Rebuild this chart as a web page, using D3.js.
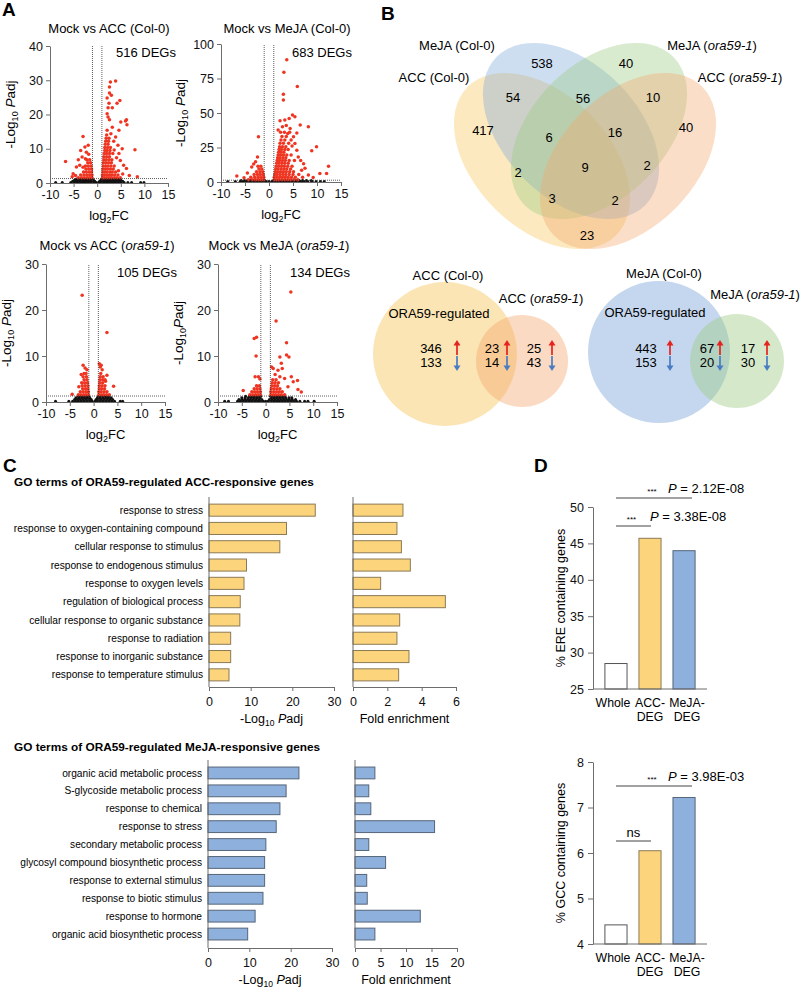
<!DOCTYPE html>
<html><head><meta charset="utf-8">
<script src="https://cdn.jsdelivr.net/npm/d3@7"></script>
<style>
body{margin:0;background:#fff}
svg{font-family:"Liberation Sans",Arial,Helvetica,sans-serif}
</style></head><body>
<svg id="fig" width="800" height="989"></svg>
<script>
// ================= DATA =================
// ---- Panel A: volcano plots, points as [log2FC, -log10 Padj] ----
const fcCut = 1, padjCut = 1.3;
const xTicksVolcano = [-10,-5,0,5,10,15];
const volcanoTitles = [
  [{t:'Mock vs ACC (Col-0)'}],
  [{t:'Mock vs MeJA (Col-0)'}],
  [{t:'Mock vs ACC ('},{t:'ora59-1',i:true},{t:')'}],
  [{t:'Mock vs MeJA ('},{t:'ora59-1',i:true},{t:')'}]
];
const degCounts = [516, 683, 105, 134];
const yMaxes = [40, 100, 30, 30];
const yTicksVolcano = [[0,10,20,30,40],[0,25,50,75,100],[0,10,20,30],[0,10,20,30]];

// Mock vs ACC (Col-0)
const accColRedRows = [
 [1.5,[1.1,1.5,2.0,2.5,3.0,3.6,4.2,4.9,-1.1,-1.6,-2.1,-2.7,-3.3,-4.0]],
 [2.3,[1.1,1.6,2.1,2.6,3.1,3.7,4.4,-1.1,-1.6,-2.2,-2.8,-3.5]],
 [3.2,[1.2,1.6,2.1,2.7,3.2,3.9,-1.2,-1.7,-2.3,-2.9]],
 [4.1,[1.2,1.7,2.2,2.8,3.4,-1.2,-1.8,-2.4]],
 [5.0,[1.3,1.8,2.3,2.9,3.6,-1.3,-1.9,-2.5]],
 [5.9,[1.3,1.8,2.4,3.0,-1.4,-2.0]],
 [6.8,[1.4,1.9,2.5,3.1,-1.6,-2.2]],
 [7.7,[1.4,2.0,2.6]],
 [8.6,[1.5,2.0,2.6,3.3]],
 [9.5,[1.6,2.1,2.7]],
 [10.4,[1.6,2.2,2.8]],
 [11.3,[1.7,2.3]],
 [12.2,[1.8,2.4]],
 [13.1,[1.9,2.5]],
 [14.0,[2.0]]
];
const accColRedScatter = [[3.9,29.8],[2.8,29.5],[2.6,28],[2.6,26.3],[3.0,25.6],[2.1,24.8],[4.8,24.1],[4.2,23.3],[2.5,23.3],[2.3,22],[3.2,22],[2.1,20.2],[2.3,19.3],[2.6,18.5],[6.2,18.5],[6.0,18.1],[5.0,17.8],[6.3,17],[3.2,16.3],[2.1,15.4],[4.6,15.4],[3.9,13.4],[4.4,11],[8.0,9.7],[5.3,10],[4.6,8.6],[4.9,6.6],[6.2,4.2],[8.5,1.8],[3.5,12.2],[2.9,14.4],[3.6,9.6],[4.1,7.4],[5.6,5.2],[4.5,3.6],[5.4,2.6],[6.8,2.2],
 [-3.0,13.6],[-2.6,10.5],[-1.9,11],[-3.5,9.5],[-3.2,7.6],[-2.5,7.1],[-4.0,6.8],[-6.7,6.3],[-3.7,5.2],[-4.4,4.7],[-5.1,2.7],[-5.3,1.8],[-1.8,8.4],[-2.3,9.0],[-4.6,2.2],[-3.0,4.6]];
const accColBlackRows = [
 [0.15,[-8.8,-7.4,-5.6,-4.9,-4.3,-3.7,-3.1,-2.5,-1.9,-1.3,-0.7,-0.2,0.3,0.8,1.4,2.0,2.6,3.2,3.8,4.4,5.0,5.7,6.5,7.3,9.2,9.9]],
 [0.5,[-5.2,-4.5,-3.9,-3.3,-2.7,-2.1,-1.5,-1.0,-0.5,0.5,1.0,1.6,2.2,2.8,3.4,4.0,4.7,5.4]],
 [0.85,[-4.8,-4.1,-3.5,-2.9,-2.3,-1.7,-1.2,-0.8,0.8,1.2,1.8,2.4,3.0,3.6,4.3,5.0]],
 [1.2,[-4.4,-3.7,-3.1,-2.5,-1.9,-1.4,-1.1,1.1,1.5,2.1,2.7,3.3,3.9,4.6]]
];

// Mock vs MeJA (Col-0)
const mejaColRedRows = [
 [1.6,[1.1,1.6,2.1,2.7,3.3,3.9,4.5,5.2,6.0,-1.1,-1.6,-2.2,-2.8,-3.5,-4.3]],
 [3.5,[1.1,1.6,2.2,2.8,3.4,4.0,4.7,5.5,-1.1,-1.7,-2.3,-3.0,-3.8]],
 [5.5,[1.2,1.7,2.3,2.9,3.5,4.2,5.0,6.2,-1.2,-1.8,-2.4,-3.1]],
 [7.5,[1.3,1.8,2.4,3.0,3.6,4.3,5.1,-1.3,-1.9,-2.6]],
 [9.5,[1.4,1.9,2.5,3.1,3.7,4.5,-1.5,-2.1]],
 [11.5,[1.5,2.0,2.6,3.2,3.9,4.8,-1.7,-2.3]],
 [13.5,[1.6,2.1,2.7,3.3,4.0]],
 [15.5,[1.7,2.2,2.8,3.4,4.2,5.3]],
 [17.5,[1.8,2.3,2.9,3.5]],
 [19.5,[1.9,2.4,3.0,3.7,4.6]],
 [21.5,[2.0,2.5,3.1]],
 [23.5,[2.1,2.6,3.3,4.0]],
 [25.5,[2.2,2.8,3.5]],
 [28,[2.3,3.0,4.1]],
 [30.5,[2.5,3.3,4.6]],
 [33,[2.7,3.6]],
 [36,[2.4,3.2,4.3]]
];
const mejaColRedScatter = [[3.7,88.6],[3.1,79.6],[5.9,69.2],[3.0,63.6],[3.0,59.5],[4.9,48.5],[5.4,47.3],[4.2,46],[3.3,44.9],[2.3,44.4],[6.5,41.3],[8.2,40],[4.4,38.8],[2.8,40],[1.9,37.6],[3.9,35.2],[5.1,32.8],[-2.2,32.8],[5.4,27.9],[9.9,25.5],[8.9,22.6],[6.1,18.2],[7.2,13.3],[12.4,11.4],[10.6,6.1],[12.0,6.1],[6.8,8.5],[-6.7,4.4],[-3.6,10.9],[-2.4,18.2],[-2.8,14.6],[5.8,23],[6.6,15.5],[7.5,10],[8.2,5.0],[9.2,3.2],[7.0,3.5],[4.8,26],[3.6,41],[5.8,35.5],[-4.5,6.5],[-3.2,13],[-5.2,3.0]];
const mejaColBlackRows = [
 [0.3,[-8.6,-7.0,-6.0,-5.4,-4.8,-4.2,-3.6,-3.0,-2.4,-1.8,-1.2,-0.6,0,0.6,1.2,1.8,2.4,3.0,3.6,4.2,4.8,5.4,6.0,6.6,7.3,8.1,9.0,9.8,10.7,11.5]],
 [1.0,[-5.8,-5.1,-4.5,-3.9,-3.3,-2.7,-2.1,-1.5,-0.9,0.9,1.5,2.1,2.7,3.3,3.9,4.5,5.1,5.7,6.3,7.0,7.8,8.8]]
];

// Mock vs ACC (ora59-1)
const accOraRedRows = [
 [1.6,[1.1,1.6,2.1,2.7,3.3,-1.1,-1.6,-2.1,-2.7,-3.2]],
 [2.25,[1.1,1.6,2.2,2.8,-1.1,-1.6,-2.2,-2.8]],
 [2.9,[1.2,1.7,2.3,-1.2,-1.7,-2.3]],
 [3.55,[1.2,1.8,2.4,-1.2,-1.8,-2.4]],
 [4.2,[1.3,1.9,-1.3,-1.9,-2.5]],
 [4.85,[1.3,1.9,2.4,-1.4,-2.0]],
 [5.5,[1.4,2.0,-1.5,-2.2]],
 [6.2,[1.5,-1.6,-2.0]]
];
const accOraRedScatter = [[-2.4,23.2],[2.8,15.1],[-2.2,8.0],[1.2,8.3],[1.4,7.6],[-1.4,7.0],[4.2,3.4],[2.8,5.8],[-4.5,1.7],[-3.1,3.3],[1.8,7.0],[-2.6,6.0],[2.5,4.5],[-1.8,7.4],[1.6,8.0]];
const accOraBlackRows = [
 [0.15,[-8.0,-5.2,-4.4,-3.8,-3.2,-2.6,-2.0,-1.4,-0.8,-0.3,0.3,0.8,1.4,2.0,2.6,3.2,3.8,4.4,5.6,6.1]],
 [0.55,[-4.0,-3.4,-2.8,-2.2,-1.6,-1.0,-0.5,0.5,1.0,1.6,2.2,2.8,3.4,4.0]],
 [0.95,[-3.7,-3.1,-2.5,-1.9,-1.3,-0.8,0.8,1.3,1.9,2.5,3.1,3.7]],
 [1.25,[-3.2,-2.6,-2.0,-1.4,-1.05,1.05,1.4,2.0,2.6,3.2]]
];

// Mock vs MeJA (ora59-1)
const mejaOraRedRows = [
 [1.6,[1.1,1.6,2.1,2.7,3.3,4.0,-1.1,-1.6,-2.1,-2.7,-3.3]],
 [2.25,[1.1,1.7,2.3,2.9,3.5,-1.1,-1.7,-2.3,-2.9]],
 [2.9,[1.2,1.8,2.4,3.0,-1.2,-1.8,-2.4]],
 [3.55,[1.3,1.9,2.5,-1.3,-1.9]],
 [4.2,[1.4,2.0,2.7]],
 [4.85,[1.5,2.2]]
];
const mejaOraRedScatter = [[5.3,23.9],[2.2,17.6],[-2.4,13.8],[-1.9,14.1],[-2.0,10.0],[4.4,12.9],[4.4,10.2],[4.9,9.8],[3.0,9.8],[1.25,7.6],[1.6,7.3],[3.3,8.4],[2.6,6.9],[3.5,7.3],[5.4,5.5],[6.7,4.7],[4.0,5.1],[3.0,5.5],[-2.2,5.5],[-1.5,5.5],[-4.7,2.5],[6.8,2.7],[7.5,2.2],[4.7,3.3],[5.8,4.4],[-1.2,5.0],[2.0,6.0]];
const mejaOraBlackRows = [
 [0.15,[-8.6,-7.8,-5.9,-5.3,-4.7,-4.1,-3.5,-2.9,-2.3,-1.7,-1.1,-0.5,0,0.5,1.1,1.7,2.3,2.9,3.5,4.1,4.7,5.3,5.9,6.5,7.2,8.2,8.9,10.2]],
 [0.55,[-5.6,-5.0,-4.4,-3.8,-3.2,-2.6,-2.0,-1.4,-0.8,0.8,1.4,2.0,2.6,3.2,3.8,4.4,5.0,5.6,6.3]],
 [0.95,[-5.0,-4.3,-3.6,-3.0,-2.4,-1.8,-1.2,1.2,1.8,2.4,3.0,3.6,4.2,4.9,5.5]],
 [1.25,[-4.2,-3.4,-2.7,-2.1,-1.5,-1.05,1.05,1.5,2.1,2.7,3.3,4.0]]
];

// ---- Panel B: Venn diagrams ----
const vennSetNames = [
  [{t:'ACC (Col-0)'}],
  [{t:'MeJA (Col-0)'}],
  [{t:'MeJA ('},{t:'ora59-1',i:true},{t:')'}],
  [{t:'ACC ('},{t:'ora59-1',i:true},{t:')'}]
];
const vennSetColors = ['#f8c558','#7fa7d9','#9ccb80','#f3a86e'];
// regions: A=ACC Col, B=MeJA Col, C=MeJA ora, D=ACC ora
const vennRegions = ['B','C','AB','BC','CD','A','ABC','BCD','D','AC','ABCD','BD','ACD','ABD','AD'];
const vennCounts  = [538, 40, 54, 56, 10, 417, 6, 16, 40, 2, 9, 2, 3, 2, 23];

const accUp = [346, 23, 25], accDown = [133, 14, 43];
const mejaUp = [443, 67, 17], mejaDown = [153, 20, 30];

// ---- Panel C: GO terms ----
const goAccTerms = ['response to stress','response to oxygen-containing compound','cellular response to stimulus','response to endogenous stimulus','response to oxygen levels','regulation of biological process','cellular response to organic substance','response to radiation','response to inorganic substance','response to temperature stimulus'];
const goAccPadj = [25.5, 18.6, 17.0, 9.0, 8.4, 7.5, 7.4, 5.2, 5.2, 4.8];
const goAccFold = [2.91, 2.56, 2.82, 3.34, 1.61, 5.38, 2.72, 2.56, 3.26, 2.66];
const goMejaTerms = ['organic acid metabolic process','S-glycoside metabolic process','response to chemical','response to stress','secondary metabolic process','glycosyl compound biosynthetic process','response to external stimulus','response to biotic stimulus','response to hormone','organic acid biosynthetic process'];
const goMejaPadj = [22.0, 18.9, 17.4, 16.5, 14.0, 13.7, 13.7, 13.3, 11.4, 9.6];
const goMejaFold = [3.9, 2.7, 3.1, 15.6, 2.7, 6.0, 2.3, 2.4, 12.8, 3.9];

// ---- Panel D ----
const dCats = ['Whole','ACC-DEG','MeJA-DEG'];
const dCatLines = [['Whole'],['ACC-','DEG'],['MeJA-','DEG']];
const ereVals = [28.5, 45.7, 44.0];
const gccVals = [4.42, 6.05, 7.22];
const ereTicks = [25,30,35,40,45,50];
const gccTicks = [4,5,6,7,8];
const ereSig = [{from:0,to:2,mark:'***',p:'2.12E-08'},{from:0,to:1,mark:'***',p:'3.38E-08'}];
const gccSig = [{from:0,to:2,mark:'***',p:'3.98E-03'},{from:0,to:1,mark:'ns',p:null}];

// ================= DRAWING =================
const svg = d3.select('#fig');
const AX = '#6d6d6d';

function rich(sel, parts, subSize){
  let shifted = false;
  parts.forEach(p=>{
    const t = sel.append('tspan').text(p.t);
    if(p.i) t.attr('font-style','italic');
    if(p.sub){ t.attr('font-size',subSize||8.5).attr('dy',3); shifted = true; }
    else if(shifted){ t.attr('dy',-3); shifted = false; }
  });
  return sel;
}
function styleAxis(sel, fs){
  sel.selectAll('path.domain').attr('stroke',AX).attr('stroke-width',1);
  sel.selectAll('.tick line').attr('stroke',AX);
  sel.selectAll('.tick text').attr('fill','#111').attr('font-size',fs).attr('font-family','"Liberation Sans",Arial,sans-serif');
}
const rowsToPts = rows => rows.flatMap(([yv,xs]) => xs.map(xv => [xv,yv]));

function panelLetter(t,x,y){
  svg.append('text').attr('x',x).attr('y',y).attr('font-size',19).attr('font-weight','bold').text(t);
}

// ---------- Panel A ----------
panelLetter('A',2,16);
const volcanoLayout = [
  {x0:50,x1:168,yb:183,yt:46,tx:109,ty:33,dx:146,dy:57,lx:15,subSpace:true},
  {x0:221,x1:341,yb:182,yt:44,tx:287,ty:33,dx:322,dy:57,lx:185,subSpace:true},
  {x0:46,x1:165,yb:402,yt:264,tx:107,ty:250,dx:147,dy:277,lx:11,subSpace:true},
  {x0:218,x1:337,yb:402,yt:264,tx:279,ty:250,dx:320,dy:277,lx:183,subSpace:false}
];
const volcanoData = [
  {red:rowsToPts(accColRedRows).concat(accColRedScatter), black:rowsToPts(accColBlackRows)},
  {red:rowsToPts(mejaColRedRows).concat(mejaColRedScatter), black:rowsToPts(mejaColBlackRows)},
  {red:rowsToPts(accOraRedRows).concat(accOraRedScatter), black:rowsToPts(accOraBlackRows)},
  {red:rowsToPts(mejaOraRedRows).concat(mejaOraRedScatter), black:rowsToPts(mejaOraBlackRows)}
];
volcanoLayout.forEach((L,k)=>{
  const g = svg.append('g');
  const x = d3.scaleLinear().domain([-10,15]).range([L.x0,L.x1]);
  const y = d3.scaleLinear().domain([0,yMaxes[k]]).range([L.yb,L.yt]);
  const D = volcanoData[k];
  g.append('g').selectAll('circle').data(D.black).join('circle')
    .attr('cx',d=>x(d[0])).attr('cy',d=>y(d[1])).attr('r',1.5).attr('fill','#111');
  g.append('g').selectAll('circle').data(D.red).join('circle')
    .attr('cx',d=>x(d[0])).attr('cy',d=>y(d[1])).attr('r',1.75).attr('fill','#ef3522');
  g.append('line').attr('x1',x(-10)).attr('x2',x(15)).attr('y1',y(padjCut)).attr('y2',y(padjCut))
    .attr('stroke','#333').attr('stroke-width',0.8).attr('stroke-dasharray','1,1');
  [-fcCut,fcCut].forEach(v=>g.append('line').attr('x1',x(v)).attr('x2',x(v)).attr('y1',y(0)).attr('y2',y(yMaxes[k]))
    .attr('stroke','#333').attr('stroke-width',0.8).attr('stroke-dasharray','1,1'));
  const xa = g.append('g').attr('transform',`translate(0,${L.yb})`)
    .call(d3.axisBottom(x).tickValues(xTicksVolcano).tickSize(4).tickSizeOuter(0).tickPadding(3).tickFormat(d=>String(d)));
  styleAxis(xa,12.5);
  const ya = g.append('g').attr('transform',`translate(${L.x0},0)`)
    .call(d3.axisLeft(y).tickValues(yTicksVolcano[k]).tickSize(4).tickSizeOuter(0).tickPadding(3).tickFormat(d=>String(d)));
  styleAxis(ya,12.5);
  rich(g.append('text').attr('x',L.tx).attr('y',L.ty).attr('text-anchor','middle').attr('font-size',13), volcanoTitles[k]);
  g.append('text').attr('x',L.dx).attr('y',L.dy).attr('text-anchor','middle').attr('font-size',13).text(degCounts[k]+' DEGs');
  rich(g.append('text').attr('x',(L.x0+L.x1)/2).attr('y',L.yb+37).attr('text-anchor','middle').attr('font-size',13),
    [{t:'log'},{t:'2',sub:true},{t:'FC'}], 9);
  const yl = g.append('text').attr('transform',`translate(${L.lx},${(L.yb+L.yt)/2}) rotate(-90)`)
    .attr('text-anchor','middle').attr('font-size',13.5);
  rich(yl,[{t:'-Log'},{t:'10',sub:true},{t:L.subSpace?' P':'P',i:true},{t:'adj'}],9);
});

// ---------- Panel B ----------
panelLetter('B',381,20);
const vennGeom = [
  {cx:542,cy:161,rot:45},{cx:571,cy:131,rot:45},{cx:599,cy:131,rot:-45},{cx:628,cy:161,rot:-45}
];
const gv = svg.append('g');
vennGeom.forEach((e,i)=>{
  gv.append('ellipse').attr('cx',0).attr('cy',0).attr('rx',105).attr('ry',67)
    .attr('transform',`translate(${e.cx},${e.cy}) rotate(${e.rot})`)
    .attr('fill',vennSetColors[i]).attr('fill-opacity',0.38);
});
const regionPos = {B:[542,63],C:[626,63],AB:[513,97],BC:[583,98],CD:[653,97],A:[483,130],ABC:[549,137],BCD:[615,132],D:[686,127],AC:[518,172],ABCD:[585,167],BD:[647,165],ACD:[552,198],ABD:[615,200],AD:[587,235]};
vennRegions.forEach((r,i)=>{
  gv.append('text').attr('x',regionPos[r][0]).attr('y',regionPos[r][1]).attr('dy','0.36em')
    .attr('text-anchor','middle').attr('font-size',13).text(vennCounts[i]);
});
const setLabelPos = [[434,77],[457,45],[712,45],[740,77]];
vennSetNames.forEach((n,i)=>{
  rich(gv.append('text').attr('x',setLabelPos[i][0]).attr('y',setLabelPos[i][1]).attr('dy','0.36em')
    .attr('text-anchor','middle').attr('font-size',13), n);
});

function arrow(g,x,y,up){
  const col = up ? '#e5231f' : '#4a7cc4';
  const y0 = up ? y+8 : y-8, y1 = up ? y-7 : y+7;
  g.append('line').attr('x1',x).attr('x2',x).attr('y1',y0).attr('y2',up?y1+4:y1-4).attr('stroke',col).attr('stroke-width',1.7);
  g.append('path').attr('d',`M${x-3.5},${up?y1+5.5:y1-5.5} L${x},${y1} L${x+3.5},${up?y1+5.5:y1-5.5} Z`).attr('fill',col);
}
function twoVenn(cfg){
  const g = svg.append('g');
  g.append('circle').attr('cx',cfg.c1[0]).attr('cy',cfg.c1[1]).attr('r',cfg.c1[2]).attr('fill',cfg.col1).attr('fill-opacity',0.45);
  g.append('circle').attr('cx',cfg.c2[0]).attr('cy',cfg.c2[1]).attr('r',cfg.c2[2]).attr('fill',cfg.col2).attr('fill-opacity',0.42);
  rich(g.append('text').attr('x',cfg.l1[0]).attr('y',cfg.l1[1]).attr('dy','0.36em').attr('text-anchor','middle').attr('font-size',13), cfg.name1);
  rich(g.append('text').attr('x',cfg.l2[0]).attr('y',cfg.l2[1]).attr('dy','0.36em').attr('text-anchor','middle').attr('font-size',13), cfg.name2);
  g.append('text').attr('x',cfg.l3[0]).attr('y',cfg.l3[1]).attr('dy','0.36em').attr('text-anchor','middle').attr('font-size',13).text('ORA59-regulated');
  cfg.up.forEach((v,i)=>{
    g.append('text').attr('x',cfg.nx[i]).attr('y',348).attr('dy','0.36em').attr('text-anchor','middle').attr('font-size',13).text(v);
    g.append('text').attr('x',cfg.nx[i]).attr('y',362).attr('dy','0.36em').attr('text-anchor','middle').attr('font-size',13).text(cfg.down[i]);
    arrow(g,cfg.ax[i],347,true);
    arrow(g,cfg.ax[i],364,false);
  });
}
twoVenn({c1:[445,354,72],c2:[522,361,46],col1:vennSetColors[0],col2:vennSetColors[3],
  name1:vennSetNames[0],name2:vennSetNames[3],l1:[448,275],l2:[541,298],l3:[439,313],
  up:accUp,down:accDown,nx:[431,492,534],ax:[457,507,552]});
twoVenn({c1:[659,352,71],c2:[737,361,47],col1:vennSetColors[1],col2:vennSetColors[2],
  name1:vennSetNames[1],name2:vennSetNames[2],l1:[664,273],l2:[755,294],l3:[655,312],
  up:mejaUp,down:mejaDown,nx:[646,707,748],ax:[670,720,767]});

// ---------- Panel C ----------
panelLetter('C',3,472);
function goChart(cfg){
  const g = svg.append('g');
  g.append('text').attr('x',14).attr('y',cfg.titleY).attr('font-size',11.8).attr('font-weight','bold').text(cfg.title);
  const yb = d3.scaleBand().domain(cfg.terms).range([cfg.bt,cfg.bb]).paddingInner(0.34).paddingOuter(0.17);
  const x1 = d3.scaleLinear().domain([0,30]).range([cfg.lx0,cfg.lx1]);
  const x2 = d3.scaleLinear().domain([0,cfg.fmax]).range([cfg.fx0,cfg.fx1]);
  g.append('g').selectAll('rect').data(cfg.terms).join('rect')
    .attr('x',x1(0)).attr('y',d=>yb(d)).attr('width',(d,i)=>x1(cfg.padj[i])-x1(0)).attr('height',yb.bandwidth())
    .attr('fill',cfg.fill).attr('stroke',cfg.stroke).attr('stroke-width',1);
  g.append('g').selectAll('rect').data(cfg.terms).join('rect')
    .attr('x',x2(0)).attr('y',d=>yb(d)).attr('width',(d,i)=>x2(cfg.fold[i])-x2(0)).attr('height',yb.bandwidth())
    .attr('fill',cfg.fill).attr('stroke',cfg.stroke).attr('stroke-width',1);
  g.append('g').selectAll('text').data(cfg.terms).join('text')
    .attr('x',cfg.lx0-6).attr('y',d=>yb(d)+yb.bandwidth()/2).attr('dy','0.35em')
    .attr('text-anchor','end').attr('font-size',10.2).text(d=>d);
  [cfg.lx0,cfg.fx0].forEach(xx=>g.append('line').attr('x1',xx).attr('x2',xx).attr('y1',cfg.at).attr('y2',cfg.ab).attr('stroke',AX));
  const a1 = g.append('g').attr('transform',`translate(0,${cfg.ab})`).call(d3.axisBottom(x1).tickValues([0,10,20,30]).tickSize(4).tickSizeOuter(0).tickPadding(6).tickFormat(d=>String(d)));
  styleAxis(a1,12.5);
  const a2 = g.append('g').attr('transform',`translate(0,${cfg.ab})`).call(d3.axisBottom(x2).tickValues(cfg.fticks).tickSize(4).tickSizeOuter(0).tickPadding(6).tickFormat(d=>String(d)));
  styleAxis(a2,12.5);
  rich(g.append('text').attr('x',(cfg.lx0+cfg.lx1)/2).attr('y',cfg.ab+36).attr('text-anchor','middle').attr('font-size',12.5),
    [{t:'-Log'},{t:'10',sub:true},{t:' P',i:true},{t:'adj'}],8.5);
  g.append('text').attr('x',(cfg.fx0+cfg.fx1)/2).attr('y',cfg.ab+36).attr('text-anchor','middle').attr('font-size',12.5).text('Fold enrichment');
}
goChart({title:'GO terms of ORA59-regulated ACC-responsive genes',titleY:486,terms:goAccTerms,padj:goAccPadj,fold:goAccFold,
  bt:501,bb:684,at:497,ab:687,lx0:209,lx1:334,fx0:353,fx1:456,fmax:6,fticks:[0,2,4,6],fill:'#fcd47c',stroke:'#8c7a55'});
goChart({title:'GO terms of ORA59-regulated MeJA-responsive genes',titleY:751,terms:goMejaTerms,padj:goMejaPadj,fold:goMejaFold,
  bt:764,bb:943,at:760,ab:948,lx0:208,lx1:332,fx0:355,fx1:457,fmax:20,fticks:[0,5,10,15,20],fill:'#8eb0dc',stroke:'#56657a'});

// ---------- Panel D ----------
panelLetter('D',534,472);
function dChart(cfg){
  const g = svg.append('g');
  const x = d3.scaleBand().domain(dCats).range([593,707]).paddingInner(0.35).paddingOuter(0.35);
  const y = d3.scaleLinear().domain(cfg.dom).range([cfg.yb,cfg.yt]);
  const fills = ['#ffffff','#fcd47c','#8eb0dc'];
  const strokes = ['#555','#8c7a55','#56657a'];
  const labelShift = [-3, 0, 3];
  g.append('g').selectAll('rect').data(cfg.vals).join('rect')
    .attr('x',(d,i)=>x(dCats[i])).attr('y',d=>y(d)).attr('width',x.bandwidth()).attr('height',d=>y(cfg.dom[0])-y(d))
    .attr('fill',(d,i)=>fills[i]).attr('stroke',(d,i)=>strokes[i]).attr('stroke-width',1);
  const ya = g.append('g').attr('transform','translate(593,0)')
    .call(d3.axisLeft(y).tickValues(cfg.ticks).tickSize(5).tickSizeOuter(0).tickPadding(4).tickFormat(d=>String(d)));
  styleAxis(ya,12.5);
  g.append('line').attr('x1',593).attr('x2',707).attr('y1',cfg.yb).attr('y2',cfg.yb).attr('stroke',AX);
  dCatLines.forEach((lines,i)=>lines.forEach((s,j)=>{
    g.append('text').attr('x',x(dCats[i])+x.bandwidth()/2+labelShift[i]).attr('y',cfg.yb+18+j*14).attr('text-anchor','middle').attr('font-size',12.3).text(s);
  }));
  g.append('text').attr('transform',`translate(565,${(cfg.yb+cfg.yt)/2}) rotate(-90)`).attr('text-anchor','middle')
    .attr('font-size',12.5).text(cfg.ylabel);
  cfg.sig.forEach((s,k)=>{
    const xa = x(dCats[s.from])+x.bandwidth()/2, xb = x(dCats[s.to])+x.bandwidth()/2 + (s.to===2?8:1);
    const ly = cfg.sigY[k];
    g.append('line').attr('x1',xa).attr('x2',xb).attr('y1',ly).attr('y2',ly).attr('stroke','#444').attr('stroke-width',1);
    const mid = (xa+xb)/2;
    if(s.mark==='ns'){
      g.append('text').attr('x',mid).attr('y',ly-4).attr('text-anchor','middle').attr('font-size',13).text('ns');
    } else {
      g.append('text').attr('x',mid-2).attr('y',ly-4).attr('text-anchor','middle').attr('font-size',8).text(s.mark);
    }
    if(s.p){
      const t = g.append('text').attr('x',cfg.pX[k]).attr('y',ly-5).attr('font-size',13);
      rich(t,[{t:'P',i:true},{t:' = '+s.p}]);
    }
  });
}
dChart({dom:[25,50],yb:689,yt:507,vals:ereVals,ticks:ereTicks,ylabel:'% ERE containing genes',sig:ereSig,sigY:[498,526],pX:[668,650]});
dChart({dom:[4,8],yb:944,yt:762,vals:gccVals,ticks:gccTicks,ylabel:'% GCC containing genes',sig:gccSig,sigY:[786,841],pX:[668,0]});
</script>
</body></html>
